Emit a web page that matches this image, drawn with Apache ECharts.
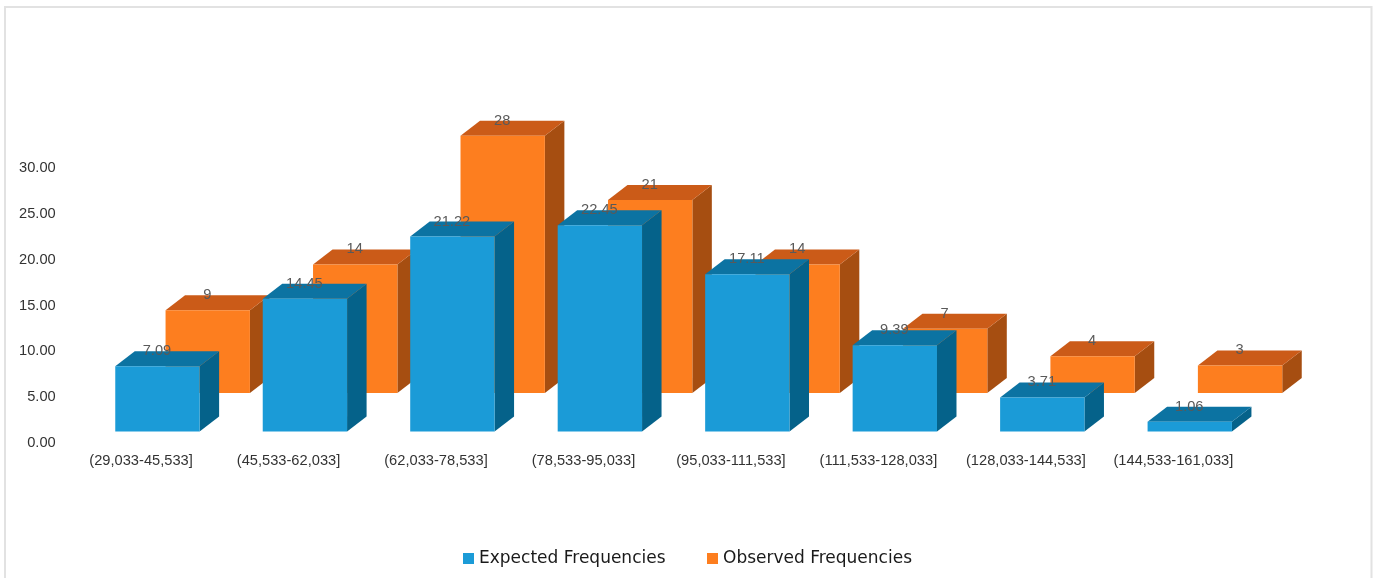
<!DOCTYPE html>
<html>
<head>
<meta charset="utf-8">
<title>Expected vs Observed Frequencies</title>
<script src="https://cdn.jsdelivr.net/npm/echarts@6/dist/echarts.min.js"></script>
<style>
  html, body { margin: 0; padding: 0; background: #ffffff; }
  #chart { width: 1381px; height: 578px; }
</style>
</head>
<body>
<div id="chart"></div>
<script>
// Class intervals
const categories = [
  '(29,033-45,533]', '(45,533-62,033]', '(62,033-78,533]', '(78,533-95,033]',
  '(95,033-111,533]', '(111,533-128,033]', '(128,033-144,533]', '(144,533-161,033]'
];
// Frequencies per interval
const expected = [7.09, 14.45, 21.22, 22.45, 17.11, 9.39, 3.71, 1.06];
const observed = [9, 14, 28, 21, 14, 7, 4, 3];
// Value axis ticks
const yMin = 0, yMax = 30, yStep = 5;

const FONT = "'Liberation Sans', Arial, sans-serif";

// Shading for the three visible faces of each box
const BLUE = { front: '#1b9bd7', top: '#0c73a2', side: '#05628a' };
const ORANGE = { front: '#fd7e1f', top: '#cb5b18', side: '#a64e11' };

// Depth of every box and the perspective shift of each row of boxes
const DEPTH_X = 19.5, DEPTH_Y = -15;
const BAR_RATIO = 0.572;

function boxRenderer(colors, shiftX, shiftY) {
  return function (params, api) {
    const cat = api.value(0);
    const val = api.value(1);
    const base = api.coord([cat, 0]);
    const top = api.coord([cat, val]);
    const band = api.size([1, 0])[0];
    const w = band * BAR_RATIO;
    const cx = base[0] + shiftX;
    const y0 = base[1] + shiftY;
    const y1 = top[1] + shiftY;
    const x0 = cx - w / 2, x1 = cx + w / 2;
    return {
      type: 'group',
      children: [
        {
          type: 'polygon',
          shape: { points: [[x1, y0], [x1 + DEPTH_X, y0 + DEPTH_Y], [x1 + DEPTH_X, y1 + DEPTH_Y], [x1, y1]] },
          style: { fill: colors.side }
        },
        {
          type: 'polygon',
          shape: { points: [[x0, y1], [x1, y1], [x1 + DEPTH_X, y1 + DEPTH_Y], [x0 + DEPTH_X, y1 + DEPTH_Y]] },
          style: { fill: colors.top }
        },
        {
          type: 'rect',
          shape: { x: x0, y: y1, width: w, height: y0 - y1 },
          style: { fill: colors.front }
        },
        {
          type: 'text',
          z2: 10,
          x: cx - 0.5,
          y: y1 + DEPTH_Y,
          style: {
            text: String(val),
            fill: '#595959',
            fontSize: 14.67,
            fontFamily: FONT,
            align: 'center',
            verticalAlign: 'middle'
          }
        }
      ]
    };
  };
}

const chart = echarts.init(document.getElementById('chart'), null, { renderer: 'canvas' });

const legendText = { fontSize: 17, fontFamily: "'DejaVu Sans', sans-serif", color: '#1a1a1a' };

chart.setOption({
  backgroundColor: '#ffffff',
  animation: false,
  graphic: [
    {
      type: 'rect',
      shape: { x: 5, y: 7, width: 1366.5, height: 620 },
      style: { fill: 'none', stroke: '#e2e2e2', lineWidth: 2 },
      silent: true
    }
  ],
  legend: [
    {
      data: ['Expected Frequencies'],
      left: 463, top: 550, padding: 0,
      icon: 'rect', itemWidth: 11, itemHeight: 11,
      textStyle: legendText
    },
    {
      data: ['Observed Frequencies'],
      left: 707, top: 550, padding: 0,
      icon: 'rect', itemWidth: 11, itemHeight: 11,
      textStyle: legendText
    }
  ],
  grid: { left: 67.3, right: 133.9, top: 167.7, bottom: 134.7, containLabel: false },
  xAxis: {
    type: 'category',
    data: categories,
    axisLine: { show: false },
    axisTick: { show: false },
    splitLine: { show: false },
    axisLabel: { interval: 0, margin: 10, fontSize: 14.67, fontFamily: FONT, color: '#333333' }
  },
  yAxis: {
    type: 'value',
    min: yMin, max: yMax, interval: yStep,
    axisLine: { show: false },
    axisTick: { show: false },
    splitLine: { show: false },
    axisLabel: {
      margin: 11.6, fontSize: 14.67, fontFamily: FONT, color: '#333333',
      formatter: v => v.toFixed(2)
    }
  },
  series: [
    {
      name: 'Observed Frequencies',
      type: 'custom',
      z: 2,
      itemStyle: { color: ORANGE.front },
      encode: { x: 0, y: 1 },
      data: observed.map((v, i) => [i, v]),
      renderItem: boxRenderer(ORANGE, 66.7, -50.3)
    },
    {
      name: 'Expected Frequencies',
      type: 'custom',
      z: 3,
      itemStyle: { color: BLUE.front },
      encode: { x: 0, y: 1 },
      data: expected.map((v, i) => [i, v]),
      renderItem: boxRenderer(BLUE, 16.4, -11.8)
    }
  ]
});
</script>
</body>
</html>
